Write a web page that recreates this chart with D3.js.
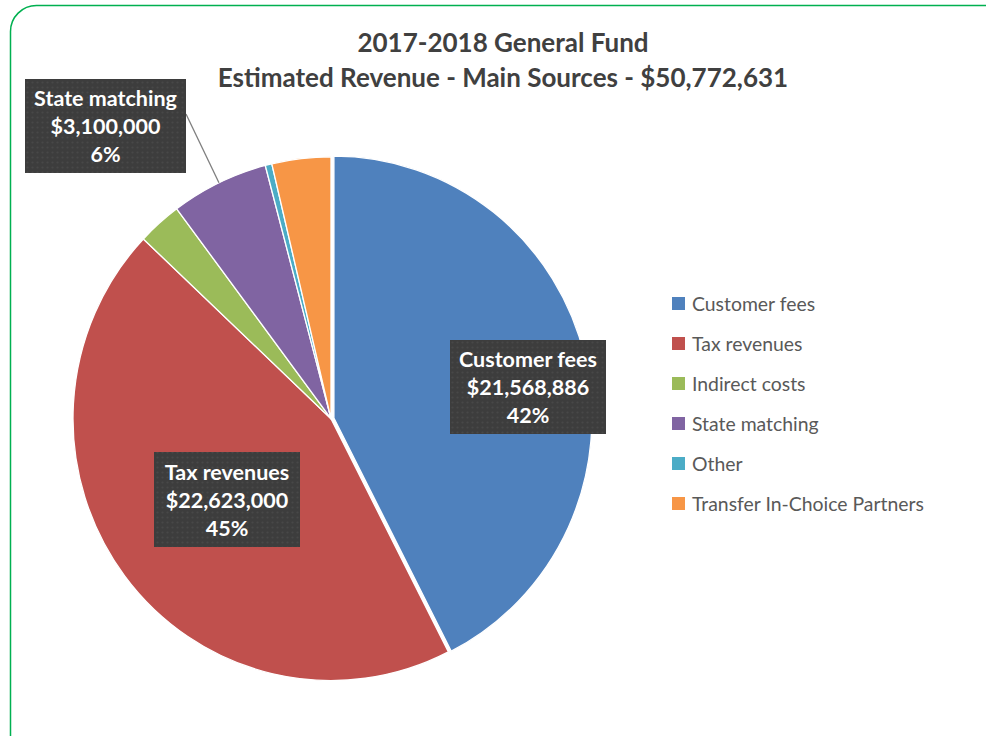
<!DOCTYPE html>
<html>
<head>
<meta charset="utf-8">
<script src="https://cdn.jsdelivr.net/npm/d3@7"></script>
<style>
  html, body { margin: 0; padding: 0; background: #ffffff; }
  svg { display: block; }
  text { font-family: Lato, "Open Sans", sans-serif; }
</style>
</head>
<body>
<svg id="chart" width="986" height="736"></svg>
<script>
// Revenue sources for the 2017-2018 General Fund
const categories = ["Customer fees", "Tax revenues", "Indirect costs", "State matching", "Other", "Transfer In-Choice Partners"];
const revenues = [21568886, 22623000, 1400000, 3100000, 210745, 1870000];
const sliceColors = ["#4f81bd", "#c0504d", "#9bbb59", "#8064a2", "#4bacc6", "#f79646"];
const titleLines = ["2017-2018 General Fund", "Estimated Revenue - Main Sources - $50,772,631"];
// slices that carry a callout label
const labelled = ["Customer fees", "Tax revenues", "State matching"];

const W = 986, H = 736;
const svg = d3.select("#chart");

// pattern used for the dark callout boxes
const defs = svg.append("defs");
const pat = defs.append("pattern")
  .attr("id", "dots").attr("width", 5).attr("height", 5)
  .attr("patternUnits", "userSpaceOnUse");
pat.append("rect").attr("width", 5).attr("height", 5).attr("fill", "#3d3d3d");
pat.append("circle").attr("cx", 2.5).attr("cy", 2.5).attr("r", 1.1).attr("fill", "#484848");

// chart area frame
svg.append("rect")
  .attr("x", 10.5).attr("y", 5.5)
  .attr("width", 1000).attr("height", 760)
  .attr("rx", 26).attr("ry", 26)
  .attr("fill", "#ffffff")
  .attr("stroke", "#00b050").attr("stroke-width", 1.5);

// title
svg.append("g").selectAll("text")
  .data(titleLines)
  .join("text")
  .attr("x", 503)
  .attr("y", (d, i) => 42 + i * 35)
  .attr("text-anchor", "middle")
  .attr("dominant-baseline", "central")
  .attr("fill", "#404040")
  .attr("font-weight", "bold")
  .attr("font-size", 26)
  .text(d => d);

// pie
const total = d3.sum(revenues);
const rows = categories.map((c, i) => ({ name: c, value: revenues[i], color: sliceColors[i] }));
const pie = d3.pie().value(d => d.value).sort(null).startAngle(0).endAngle(2 * Math.PI);
const arcs = pie(rows);
const R = 258;
const arc = d3.arc().innerRadius(0).outerRadius(R);
const rim = d3.arc().innerRadius(R).outerRadius(R);

const cx = 331, cy = 418.7, sy = 1.015;
const pieG = svg.append("g").attr("transform", `translate(${cx},${cy}) scale(1,${sy})`);

const explode = { "Customer fees": 3 };
pieG.selectAll("path")
  .data(arcs)
  .join("path")
  .attr("d", arc)
  .attr("fill", d => d.data.color)
  .attr("stroke", "#ffffff")
  .attr("stroke-width", 1.3)
  .attr("stroke-linejoin", "round")
  .attr("transform", d => {
    const e = explode[d.data.name] || 0;
    const a = (d.startAngle + d.endAngle) / 2;
    return `translate(${e * Math.sin(a)},${-e * Math.cos(a)})`;
  });

// callout labels
const money = d3.format("$,");
const pct = d3.format(".0%");
const boxPos = {
  "Customer fees": [528, 387],
  "Tax revenues": [227, 499.5],
  "State matching": [105.5, 126]
};
const boxSize = {
  "Customer fees": [156, 94],
  "Tax revenues": [146, 95],
  "State matching": [161, 94]
};

const labG = svg.append("g");
arcs.filter(d => labelled.includes(d.data.name)).forEach(d => {
  const [bx, by] = boxPos[d.data.name];
  const [bw, bh] = boxSize[d.data.name];
  if (d.data.name === "State matching") {
    const [px, py] = rim.centroid(d);
    labG.append("line")
      .attr("x1", bx + bw / 2).attr("y1", by - 12)
      .attr("x2", cx + px).attr("y2", cy + py * sy)
      .attr("stroke", "#7f7f7f").attr("stroke-width", 1.3);
  }
  labG.append("rect")
    .attr("x", bx - bw / 2).attr("y", by - bh / 2)
    .attr("width", bw).attr("height", bh)
    .attr("fill", "url(#dots)");
  const lines = [d.data.name, money(d.data.value), pct(d.data.value / total)];
  labG.append("g").selectAll("text")
    .data(lines)
    .join("text")
    .attr("x", bx)
    .attr("y", (t, i) => by + (i - 1) * 28)
    .attr("text-anchor", "middle")
    .attr("dominant-baseline", "central")
    .attr("fill", "#ffffff")
    .attr("font-weight", "bold")
    .attr("font-size", 21.5)
    .text(t => t);
});

// legend
const legend = svg.append("g").attr("transform", "translate(672,303)");
const item = legend.selectAll("g")
  .data(rows)
  .join("g")
  .attr("transform", (d, i) => `translate(0,${i * 40})`);
item.append("rect")
  .attr("x", 0).attr("y", -6)
  .attr("width", 13).attr("height", 13)
  .attr("fill", d => d.color);
item.append("text")
  .attr("x", 20).attr("y", 0)
  .attr("dominant-baseline", "central")
  .attr("fill", "#595959")
  .attr("font-size", 19.4)
  .text(d => d.name);
</script>
</body>
</html>
